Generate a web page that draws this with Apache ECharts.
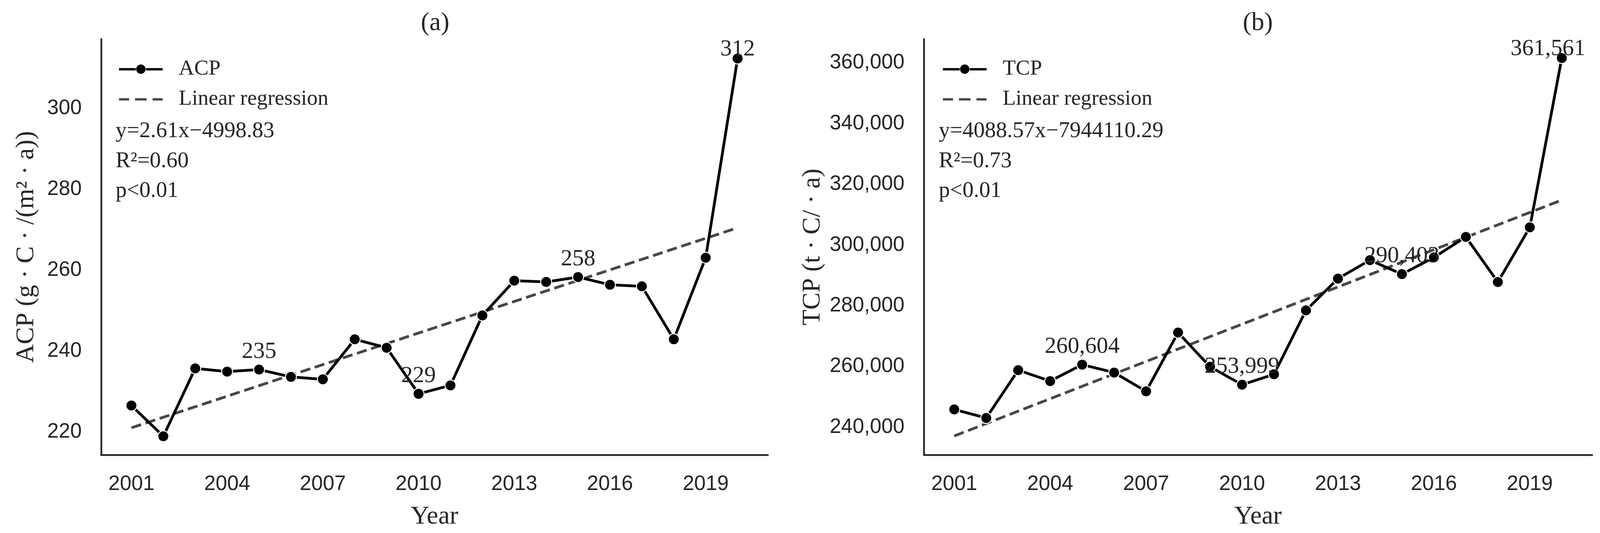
<!DOCTYPE html>
<html>
<head>
<meta charset="utf-8">
<script src="https://cdn.jsdelivr.net/npm/echarts@6/dist/echarts.min.js"></script>
<style>
html,body{margin:0;padding:0;background:#fff;overflow:hidden;}
#chart{width:100vw;height:100vh;}
</style>
</head>
<body>
<div id="chart"></div>
<script>
// ---- data ----
const years = [2001, 2002, 2003, 2004, 2005, 2006, 2007, 2008, 2009, 2010,
               2011, 2012, 2013, 2014, 2015, 2016, 2017, 2018, 2019, 2020];
const acp = [226.5, 218.9, 235.7, 234.9, 235.4, 233.6, 233.0, 242.9, 240.8, 229.4,
             231.5, 248.8, 257.4, 257.1, 258.3, 256.4, 256.0, 242.9, 263.1, 312.4];
const tcp = [245850, 243040, 258790, 255190, 260604, 258000, 251810, 271160, 259910, 253999,
             257430, 278470, 288930, 295010, 290403, 295900, 302650, 287810, 305810, 361561];
const labelYears = [2005, 2010, 2015, 2020];
const regYears = [2001, 2020];
const regA = [221.0, 270.5];
const regB = [237118, 314801];
const xTicks = [2001, 2004, 2007, 2010, 2013, 2016, 2019];
const yTicksA = [220, 240, 260, 280, 300];
const yTicksB = [240000, 260000, 280000, 300000, 320000, 340000, 360000];
const eqA = ['y=2.61x\u22124998.83', 'R\u00b2=0.60', 'p<0.01'];
const eqB = ['y=4088.57x\u22127944110.29', 'R\u00b2=0.73', 'p<0.01'];

const TXT = '#262626';
const SERIF = '"Liberation Serif", "Times New Roman", serif';
const SANS = '"Liberation Sans", Arial, sans-serif';

const chart = echarts.init(document.getElementById('chart'), null, {renderer: 'canvas'});
// layout was measured on a 4288x1364 frame; map it onto the actual frame
const kx = chart.getWidth() / 4288;
const ky = chart.getHeight() / 1364;
const X = v => v * kx;
const Y = v => v * ky;

function fmtComma(v){ return Math.round(v).toLocaleString('en-US'); }

function buildData(vals, round){
  return years.map((y, i) => {
    const item = { value: [y, vals[i]] };
    if (labelYears.indexOf(y) >= 0) {
      const last = (y === 2020);
      item.label = {
        show: true,
        position: 'top',
        distance: last ? Y(-22) : Y(1),
        offset: (last && !round) ? [X(-37), 0] : [0, 0],
        formatter: () => round ? String(Math.round(vals[i])) : fmtComma(vals[i]),
        fontFamily: SERIF, fontSize: 59, color: TXT
      };
    }
    return item;
  });
}

function xAxis(gridIndex){
  return {
    type: 'value', gridIndex: gridIndex, min: 2000.05, max: 2020.95,
    name: 'Year', nameLocation: 'middle', nameGap: Y(126),
    nameTextStyle: { fontFamily: SERIF, fontSize: 66, color: TXT },
    axisLine: { show: true, onZero: false, lineStyle: { color: TXT, width: 4.5 } },
    axisTick: { show: false },
    splitLine: { show: false },
    axisLabel: { customValues: xTicks, formatter: v => String(v), fontFamily: SANS, fontSize: 53, color: TXT, margin: Y(49) }
  };
}
function yAxis(gridIndex, min, max, ticks, name, fmt, gap){
  return {
    type: 'value', gridIndex: gridIndex, min: min, max: max,
    name: name, nameLocation: 'middle', nameRotate: 90, nameGap: X(gap),
    nameTextStyle: { fontFamily: SERIF, fontSize: 66, color: TXT },
    axisLine: { show: true, onZero: false, lineStyle: { color: TXT, width: 4.5 } },
    axisTick: { show: false },
    splitLine: { show: false },
    axisLabel: { customValues: ticks, formatter: fmt, fontFamily: SANS, fontSize: 53, color: TXT, margin: X(52) }
  };
}

function eqGraphics(left, lines){
  const centers = [339, 416, 492];
  return lines.map((t, i) => ({
    type: 'text', left: X(left), top: Y(centers[i]) - 31,
    style: { text: t, font: '57px ' + SERIF, fill: TXT }
  }));
}

const lineSeries = (name, xi, data) => ({
  name: name, type: 'line', xAxisIndex: xi, yAxisIndex: xi, data: data,
  symbol: 'circle', symbolSize: 28, showAllSymbol: true,
  lineStyle: { color: '#000', width: 7 },
  itemStyle: { color: '#000', borderColor: '#fff', borderWidth: 2.5 },
  z: 3, animation: false
});
const regSeries = (xi, vals) => ({
  name: 'Linear regression', type: 'line', xAxisIndex: xi, yAxisIndex: xi,
  data: regYears.map((y, i) => [y, vals[i]]),
  symbol: 'none', lineStyle: { color: '#474747', width: 7, type: [26, 12] },
  itemStyle: { color: '#474747' }, z: 2, animation: false
});

// legend icons (117 x 26 box): solid line with a dot, and a dashed line
const iconLineDot = 'path://M0,0M117,26M0,10h45v6.5h-45z M72,10h45v6.5h-45z M46,13a12.5,12.5 0 1,0 25,0a12.5,12.5 0 1,0 -25,0z';
const iconDash = 'path://M0,0M117,26M0,10h27v6.5h-27z M43,10h31v6.5h-31z M90,10h27v6.5h-27z';

const legendCommon = {
  orient: 'vertical', itemWidth: X(117), itemHeight: 26, itemGap: Y(17),
  padding: 5,
  itemStyle: { borderWidth: 0 },
  textStyle: { fontFamily: SERIF, fontSize: 55, color: TXT, lineHeight: 60, padding: [0, 0, 0, X(160) - X(117) - 5] },
  selectedMode: false
};

chart.setOption({
  animation: false,
  backgroundColor: '#fff',
  title: [
    { text: '(a)', left: X(1166), top: Y(27), textAlign: 'center', padding: 0, textStyle: { fontFamily: SERIF, fontSize: 66, fontWeight: 'normal', color: TXT } },
    { text: '(b)', left: X(3371), top: Y(27), textAlign: 'center', padding: 0, textStyle: { fontFamily: SERIF, fontSize: 66, fontWeight: 'normal', color: TXT } }
  ],
  grid: [
    { left: X(271), top: Y(100), width: X(1787), height: Y(1064), containLabel: false, outerBoundsMode: 'none' },
    { left: X(2476), top: Y(100), width: X(1791), height: Y(1064), containLabel: false, outerBoundsMode: 'none' }
  ],
  xAxis: [xAxis(0), xAxis(1)],
  yAxis: [
    yAxis(0, 214.3, 317.2, yTicksA, 'ACP (g \u00b7 C \u00b7 /(m\u00b2 \u00b7 a))', v => String(v), 166),
    yAxis(1, 230900, 367800, yTicksB, 'TCP (t \u00b7 C/ \u00b7 a)', v => fmtComma(v), 263)
  ],
  legend: [
    Object.assign({}, legendCommon, { left: X(319) - 5, top: Y(142), data: [{name: 'ACP', icon: iconLineDot}, {name: 'Linear regression', icon: iconDash}] }),
    Object.assign({}, legendCommon, { left: X(2527) - 5, top: Y(142), data: [{name: 'TCP', icon: iconLineDot}, {name: 'Linear regression', icon: iconDash}] })
  ],
  series: [
    lineSeries('ACP', 0, buildData(acp, true)),
    regSeries(0, regA),
    lineSeries('TCP', 1, buildData(tcp, false)),
    regSeries(1, regB)
  ],
  graphic: eqGraphics(310, eqA).concat(eqGraphics(2516, eqB))
});
</script>
</body>
</html>
